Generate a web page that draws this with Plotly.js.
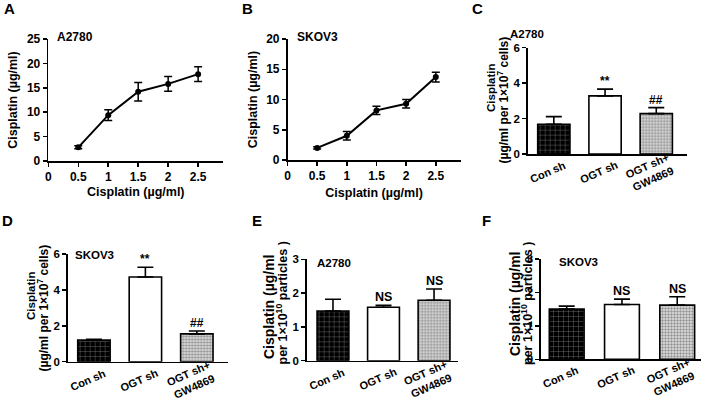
<!DOCTYPE html>
<html>
<head>
<meta charset="utf-8">
<script src="https://cdn.plot.ly/plotly-3.0.1.min.js"></script>
<style>html,body{margin:0;padding:0;background:#fff;}#chart{width:701px;height:407px;}</style>
</head>
<body>
<div id="chart"></div>
<script>
// ---- data ----
const doseX = [0.5, 1, 1.5, 2, 2.5];
const a2780Uptake = [2.8, 9.4, 14.2, 15.8, 17.8];
const a2780UptakeErr = [0.3, 1.1, 1.9, 1.5, 1.5];
const skov3Uptake = [2.0, 4.0, 8.2, 9.3, 13.7];
const skov3UptakeErr = [0.2, 0.7, 0.7, 0.7, 0.8];

const groups = ['Con sh', 'OGT sh', 'OGT sh+<br>GW4869'];
const cellA2780 = [1.68, 3.28, 2.28];
const cellA2780Err = [0.43, 0.38, 0.34];
const cellSKOV3 = [1.21, 4.72, 1.55];
const cellSKOV3Err = [0.04, 0.54, 0.16];
const exoA2780 = [1.47, 1.58, 1.79];
const exoA2780Err = [0.35, 0.06, 0.33];
const exoSKOV3 = [1.50, 1.64, 1.62];
const exoSKOV3Err = [0.09, 0.16, 0.25];
const cellMarks = ['', '**', '##'];
const exoMarks = ['', 'NS', 'NS'];

const doseTicks = [0, 0.5, 1, 1.5, 2, 2.5];
const doseTickText = ['0', '0.5', '1', '1.5', '2', '2.5'];

// ---- helpers ----
const W = 701, H = 407;
const FONT = 'Liberation Sans, Arial, Helvetica, sans-serif';
const px = v => v / W;
const py = v => 1 - v / H;

function lineTrace(y, err, xa, ya) {
  return {
    type: 'scatter', mode: 'lines+markers', x: doseX, y: y,
    xaxis: xa, yaxis: ya,
    line: {color: '#000', width: 2},
    marker: {color: '#000', size: 6},
    error_y: {type: 'data', array: err, visible: true, color: '#000', thickness: 1.5, width: 4},
    hoverinfo: 'skip'
  };
}
function barTrace(y, err, ax) {
  return {
    type: 'bar', x: groups, y: y, width: 0.63,
    xaxis: 'x' + ax, yaxis: 'y' + ax,
    marker: {
      color: ['#000000', '#ffffff', '#e4e4e4'],
      line: {color: '#000', width: 1.6},
      pattern: {fillmode: 'overlay', shape: ['+', '', '.'],
                fgcolor: ['#4a4a4a', '#ffffff', '#7a7a7a'],
                size: [5, 5, 3], solidity: [0.15, 0.2, 0.5]}
    },
    error_y: {type: 'data', symmetric: false, array: err, arrayminus: err.map(() => 0),
              visible: true, color: '#000', thickness: 1.6, width: 8},
    hoverinfo: 'skip'
  };
}

const tickFont = {family: FONT, size: 12, color: '#000', weight: 'bold'};
const titleFont = {family: FONT, size: 12.5, color: '#000', weight: 'bold'};

function numX(domain, range) {
  return {domain: domain, range: range, showline: true, linecolor: '#000', linewidth: 1.6,
    ticks: 'outside', ticklen: 4, tickwidth: 1.5, tickcolor: '#000',
    tickvals: doseTicks, ticktext: doseTickText, tickfont: tickFont,
    showgrid: false, zeroline: false, fixedrange: true};
}
function numY(domain, range, dtick, fontSize) {
  return {domain: domain, range: range, dtick: dtick, showline: true, linecolor: '#000', linewidth: 1.6,
    ticks: 'outside', ticklen: 4, tickwidth: 1.5, tickcolor: '#000',
    tickfont: Object.assign({}, tickFont, {size: fontSize || 12}),
    showgrid: false, zeroline: false, fixedrange: true};
}
function catX(domain, range) {
  return {domain: domain, range: range, type: 'category', showline: true, linecolor: '#000', linewidth: 1.6,
    ticks: '', showticklabels: false, showgrid: false, zeroline: false, fixedrange: true};
}

const data = [
  lineTrace(a2780Uptake, a2780UptakeErr, 'x', 'y'),
  lineTrace(skov3Uptake, skov3UptakeErr, 'x2', 'y2'),
  barTrace(cellA2780, cellA2780Err, '3'),
  barTrace(cellSKOV3, cellSKOV3Err, '4'),
  barTrace(exoA2780, exoA2780Err, '5'),
  barTrace(exoSKOV3, exoSKOV3Err, '6')
];

const layout = {
  width: W, height: H, margin: {l: 0, r: 0, t: 0, b: 0},
  paper_bgcolor: '#fff', plot_bgcolor: 'rgba(0,0,0,0)', showlegend: false,
  font: {family: FONT, color: '#000'},
  xaxis: Object.assign(numX([px(48.3), px(223.3)], [0, 2.92]),
    {anchor: 'y', title: {text: 'Cisplatin (µg/ml)', font: titleFont, standoff: 4}}),
  yaxis: Object.assign(numY([py(161), py(39)], [0, 25], 5),
    {anchor: 'x', title: {text: 'Cisplatin (µg/ml)', font: titleFont, standoff: 6}}),
  xaxis2: Object.assign(numX([px(287.5), px(460.7)], [0, 2.92]),
    {anchor: 'y2', title: {text: 'Cisplatin (µg/ml)', font: titleFont, standoff: 6}}),
  yaxis2: Object.assign(numY([py(160), py(39)], [0, 20], 5),
    {anchor: 'x2', title: {text: 'Cisplatin (µg/ml)', font: titleFont, standoff: 6}}),
  xaxis3: Object.assign(catX([px(527.7), px(687)], [-0.51, 2.6]), {anchor: 'y3'}),
  yaxis3: Object.assign(numY([py(154), py(47.7)], [0, 6], 2, 11.5), {anchor: 'x3'}),
  xaxis4: Object.assign(catX([px(67.7), px(227.7)], [-0.51, 2.6]), {anchor: 'y4'}),
  yaxis4: Object.assign(numY([py(361.7), py(254)], [0, 6], 2, 11.5), {anchor: 'x4'}),
  xaxis5: Object.assign(catX([px(306.7), px(458.3)], [-0.52, 2.48]), {anchor: 'y5'}),
  yaxis5: Object.assign(numY([py(360.7), py(259.3)], [0, 3], 1, 11.5), {anchor: 'x5'}),
  xaxis6: Object.assign(catX([px(541), px(701)], [-0.465, 2.43]), {anchor: 'y6'}),
  yaxis6: Object.assign(numY([py(359.3), py(259)], [0, 3], 1, 11.5), {anchor: 'x6'}),
  annotations: []
};

const ann = layout.annotations;
function paperText(text, x, y, size, opts) {
  ann.push(Object.assign({text: text, x: px(x), y: py(y), xref: 'paper', yref: 'paper',
    showarrow: false, font: {family: FONT, size: size, color: '#000', weight: 'bold'},
    xanchor: 'center', yanchor: 'middle'}, opts || {}));
}
// panel letters
paperText('A', 9, 8, 15);
paperText('B', 247.5, 8, 15);
paperText('C', 477.5, 8, 15);
paperText('D', 7.5, 220, 15);
paperText('E', 257, 220, 15);
paperText('F', 486, 220, 15);
// cell line names
paperText('A2780', 55, 37, 12, {xanchor: 'left'});
paperText('SKOV3', 295, 37, 12, {xanchor: 'left'});
paperText('A2780', 508, 34, 11.5, {xanchor: 'left'});
paperText('SKOV3', 73, 255, 11.5, {xanchor: 'left'});
paperText('A2780', 315, 263, 11.5, {xanchor: 'left'});
paperText('SKOV3', 556.5, 262, 11.5, {xanchor: 'left'});
// bar panel y titles
paperText('Cisplatin', 491, 88, 11.5, {textangle: -90});
paperText('(µg/ml per 1×10<sup>7</sup> cells)', 502.5, 100, 12, {textangle: -90});
paperText('Cisplatin', 31, 296, 11.5, {textangle: -90});
paperText('(µg/ml per 1×10<sup>7</sup> cells)', 42.5, 308, 12, {textangle: -90});
paperText('Cisplatin (µg/ml', 268.5, 306.5, 14, {textangle: -90});
paperText('per 1×10<sup>10</sup> particles )', 281, 303.5, 12.5, {textangle: -90});
paperText('Cisplatin (µg/ml', 515, 304, 14, {textangle: -90});
paperText('per 1×10<sup>10</sup> particles )', 527, 304, 12.5, {textangle: -90});

// category labels under bar panels (rotated), placed at each category on the axis
function catLabels(ax) {
  groups.forEach(g => {
    ann.push({text: g, x: g, y: 0, xref: 'x' + ax, yref: 'y' + ax, showarrow: false,
      textangle: -24, xanchor: 'center', yanchor: 'middle', align: 'center',
      xshift: -6, yshift: -18,
      font: {family: FONT, size: 11, color: '#000', weight: 'bold'}});
  });
}
['3', '4', '5', '6'].forEach(catLabels);

// significance marks
function marks(labels, vals, errs, ax, size) {
  labels.forEach((t, i) => {
    if (!t) return;
    ann.push({text: t, x: groups[i], y: vals[i] + errs[i], xref: 'x' + ax, yref: 'y' + ax,
      showarrow: false, yanchor: 'bottom', xanchor: 'center', yshift: -1,
      font: {family: FONT, size: size, color: '#000', weight: 'bold'}});
  });
}
marks(cellMarks, cellA2780, cellA2780Err, '3', 12);
marks(cellMarks, cellSKOV3, cellSKOV3Err, '4', 12);
marks(exoMarks, exoA2780, exoA2780Err, '5', 12.5);
marks(exoMarks, exoSKOV3, exoSKOV3Err, '6', 12.5);

Plotly.newPlot('chart', data, layout, {staticPlot: true, displayModeBar: false});
</script>
</body>
</html>
